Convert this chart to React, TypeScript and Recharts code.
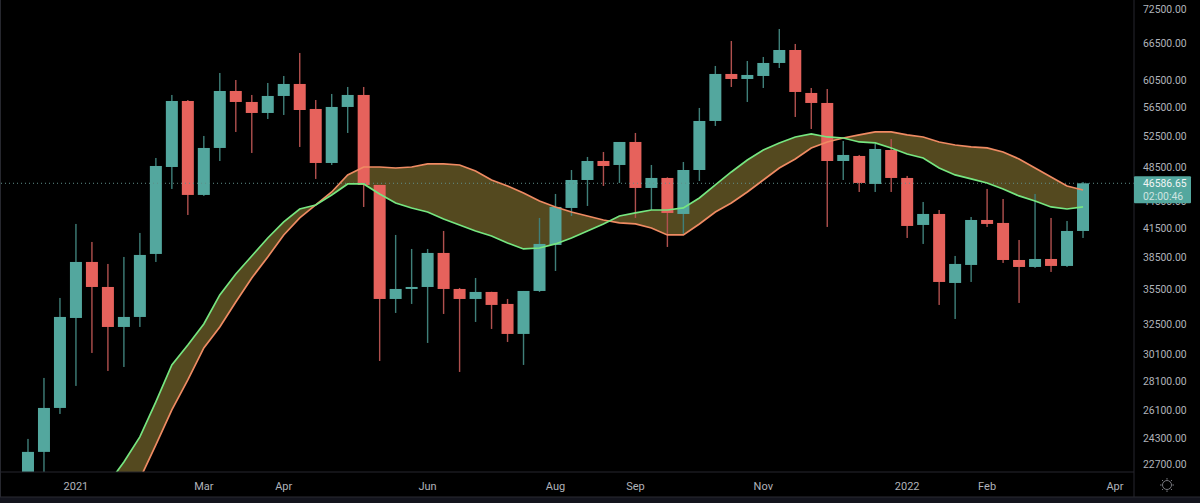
import React from 'react';
import {
  ComposedChart,
  Area,
  Line,
  Bar,
  XAxis,
  YAxis,
  ReferenceLine,
} from 'recharts';

// weekly candles, week start dates
const weeks = [
  '2020-12-14', '2020-12-21', '2020-12-28', '2021-01-04', '2021-01-11', '2021-01-18', '2021-01-25', '2021-02-01',
  '2021-02-08', '2021-02-15', '2021-02-22', '2021-03-01', '2021-03-08', '2021-03-15', '2021-03-22', '2021-03-29',
  '2021-04-05', '2021-04-12', '2021-04-19', '2021-04-26', '2021-05-03', '2021-05-10', '2021-05-17', '2021-05-24',
  '2021-05-31', '2021-06-07', '2021-06-14', '2021-06-21', '2021-06-28', '2021-07-05', '2021-07-12', '2021-07-19',
  '2021-07-26', '2021-08-02', '2021-08-09', '2021-08-16', '2021-08-23', '2021-08-30', '2021-09-06', '2021-09-13',
  '2021-09-20', '2021-09-27', '2021-10-04', '2021-10-11', '2021-10-18', '2021-10-25', '2021-11-01', '2021-11-08',
  '2021-11-15', '2021-11-22', '2021-11-29', '2021-12-06', '2021-12-13', '2021-12-20', '2021-12-27', '2022-01-03',
  '2022-01-10', '2022-01-17', '2022-01-24', '2022-01-31', '2022-02-07', '2022-02-14', '2022-02-21', '2022-02-28',
  '2022-03-07', '2022-03-14', '2022-03-21',
];

const opens = [
  19400, 23470, 26256, 33035, 38111, 35754, 32285, 33120, 38898, 48565, 57476, 45221, 50981, 58962, 57331, 55744,
  58217, 60027, 56316, 49065, 56606, 58366, 46388, 34676, 35573, 35754, 38997, 35573, 34676, 35302, 34238, 31715,
  35392, 39802, 43742, 46980, 49315, 48815, 51767, 46033, 47224, 43078, 48194, 54616, 61579, 60796, 61264, 63332,
  65464, 58664, 57186, 49315, 49950, 46507, 50718, 47224, 41886, 43078, 36122, 37821, 42421, 42100, 38304, 37628,
  38403, 37725, 41248,
];
const highs = [
  24260, 28346, 34766, 41993, 40106, 37918, 38601, 41040, 49694, 58366, 57621, 52567, 61735, 60639, 58366, 60180,
  61264, 64969, 57621, 58515, 59568, 59568, 46388, 40831, 39396, 39396, 41248, 35664, 36586, 35320, 34676, 35392,
  42641, 45334, 48194, 49823, 50462, 51767, 52971, 48815, 47300, 49190, 56461, 62850, 66987, 63654, 64309, 69071,
  66480, 59415, 59262, 51898, 50078, 51505, 52164, 47468, 44417, 43517, 38700, 42747, 45918, 44757, 40310, 45334,
  42641, 42314, 46743,
];
const lows = [
  19000, 21848, 25857, 27774, 30212, 28856, 29151, 32285, 38111, 45918, 42967, 45106, 49315, 53105, 50334, 54895,
  55461, 51112, 47105, 48815, 52971, 43854, 29601, 33460, 34238, 30994, 33375, 28783, 32700, 32121, 31072, 29303,
  35302, 37245, 42857, 43967, 46270, 46625, 42641, 43517, 39599, 40936, 46860, 53926, 59568, 57331, 59415, 62528,
  55179, 53512, 41673, 46980, 45565, 45565, 45565, 40518, 39904, 34151, 32950, 36214, 41673, 38015, 34326, 37532,
  37151, 37628, 40518,
];
const closes = [
  23470, 26256, 33120, 38111, 35754, 32285, 33120, 38799, 48690, 57476, 45221, 50981, 58962, 57331, 55744, 58217,
  60027, 56169, 49065, 56606, 58366, 46388, 34676, 35573, 35754, 38997, 35573, 34676, 35302, 34151, 31715, 35392,
  39904, 43854, 46980, 49315, 48690, 51767, 46033, 47224, 43188, 48194, 54616, 61579, 60796, 61422, 63332, 65464,
  58813, 57186, 49315, 50078, 46625, 50850, 47224, 41779, 43078, 36214, 37918, 42421, 41993, 38304, 37628, 38403,
  37725, 41248, 46586.65,
];

// the two moving averages, they start below the visible range
const fastEma = [
  null, null, null, null, null, 21620, 22876, 24384, 26661, 29303, 30836, 32534, 35034, 36963, 38700, 40518,
  42207, 43630, 44080, 45221, 46507, 46507, 45334, 44305, 43742, 43297, 42527, 41886, 41248, 40728, 40004, 39396,
  39494, 39904, 40518, 41248, 41993, 42857, 43188, 43517, 43517, 43742, 44872, 46388, 47952, 49440, 50718, 51636,
  52433, 52836, 52433, 52298, 51767, 51636, 50981, 50206, 49694, 48440, 47589, 47105, 46625, 45918, 45106, 44530,
  43854, 43630, 43854,
];
const slowEma = [
  null, null, null, null, null, 19730, 20760, 21905, 23891, 26121, 28200, 30598, 32285, 34413, 36586, 38601,
  40831, 42641, 44080, 45565, 47589, 48565, 48565, 48440, 48565, 48940, 48940, 48815, 48073, 46980, 46270, 45451,
  44530, 43854, 43297, 42857, 42421, 42100, 41993, 41566, 40831, 40831, 41993, 43297, 44305, 45565, 46980, 48440,
  49565, 50981, 51767, 52298, 52702, 53105, 53105, 52702, 52433, 51767, 51370, 51112, 50981, 50462, 49565, 48440,
  47347, 46270, 45796,
];

const priceTicks = [
  72500, 66500, 60500, 56500, 52500, 48500, 44500, 41500, 38500, 35500, 32500, 30100, 28100, 26100, 24300, 22700,
];
const lastPrice = 46586.65;
const countdown = '02:00:46';

const timeTicks = [3, 11, 16, 25, 33, 38, 46, 55, 60, 68];
const timeLabels = ['2021', 'Mar', 'Apr', 'Jun', 'Aug', 'Sep', 'Nov', '2022', 'Feb', 'Apr'];

const chartData = weeks.map((week, i) => ({
  i,
  week,
  open: opens[i],
  high: highs[i],
  low: lows[i],
  close: closes[i],
  fast: fastEma[i],
  slow: slowEma[i],
  band: fastEma[i] == null ? null : [fastEma[i], slowEma[i]],
  range: [lows[i], highs[i]],
}));

const FONT = 'Roboto, sans-serif';
const UP = '#53a79e';
const DOWN = '#e6625c';
const UP_WICK = '#3f7f79';
const DOWN_WICK = '#b0504e';
const GRID = '#26272e';

// bar rectangle spans low..high, open/close are placed inside it on the log scale
function Candle(props: any) {
  const { x, y, width, height, payload } = props;
  const { open, high, low, close } = payload;
  const span = Math.log(high / low);
  const at = (v: number) => y + (height * Math.log(high / v)) / span;
  const up = close >= open;
  const top = at(Math.max(open, close));
  const bottom = at(Math.min(open, close));
  const cx = x + width / 2;
  return (
    <g>
      <rect x={cx - 0.7} y={y} width={1.4} height={height} fill={up ? UP_WICK : DOWN_WICK} />
      <rect x={x} y={top} width={width} height={Math.max(bottom - top, 1)} fill={up ? UP : DOWN} />
    </g>
  );
}

function PriceTick(props: any) {
  const { y, payload } = props;
  if (payload.value === lastPrice) {
    return (
      <g>
        <rect x={1134} y={y - 7} width={57} height={27} rx={1} fill={UP} />
        <text x={1143} y={y + 3.5} fontFamily={FONT} fontSize={10.4} fill="#f2f5f5">
          {lastPrice.toFixed(2)}
        </text>
        <text x={1143} y={y + 17} fontFamily={FONT} fontSize={10.4} fill="#cfe4e1">
          {countdown}
        </text>
      </g>
    );
  }
  return (
    <text x={1143} y={y + 3.5} fontFamily={FONT} fontSize={10.4} fill="#b0b3ba">
      {payload.value.toFixed(2)}
    </text>
  );
}

export default function App() {
  return (
    <div style={{ position: 'absolute', left: 0, top: 0, width: 1200, height: 503, background: '#000', overflow: 'hidden' }}>
      <ComposedChart width={1200} height={503} data={chartData} margin={{ top: 0, right: 0, bottom: 0, left: 0 }}>
        <XAxis
          dataKey="i"
          type="number"
          domain={[-1.75, 69.19]}
          allowDataOverflow
          ticks={timeTicks}
          interval={0}
          tickFormatter={(v: number) => timeLabels[timeTicks.indexOf(v)]}
          tick={{ fill: '#b0b3ba', fontSize: 11, fontFamily: FONT }}
          tickLine={false}
          tickMargin={4}
          axisLine={{ stroke: GRID }}
          height={31}
        />
        <YAxis
          orientation="right"
          scale="log"
          domain={[22296, 74374]}
          allowDataOverflow
          ticks={[...priceTicks, lastPrice]}
          interval={0}
          tick={<PriceTick />}
          tickLine={false}
          axisLine={{ stroke: GRID }}
          width={66}
        />
        <ReferenceLine y={lastPrice} stroke="#5f8f8a" strokeDasharray="1 3" />
        <Area
          dataKey="band"
          type="linear"
          stroke="none"
          fill="#54491f"
          fillOpacity={1}
          dot={false}
          activeDot={false}
          isAnimationActive={false}
        />
        <Line dataKey="slow" type="linear" stroke="#ef8b63" strokeWidth={1.7} dot={false} activeDot={false} isAnimationActive={false} />
        <Line dataKey="fast" type="linear" stroke="#76e680" strokeWidth={1.7} dot={false} activeDot={false} isAnimationActive={false} />
        <Bar dataKey="range" barSize={12} shape={<Candle />} isAnimationActive={false} />
      </ComposedChart>
      <svg width={1200} height={503} style={{ position: 'absolute', left: 0, top: 0 }}>
        <line x1={0.5} y1={0} x2={0.5} y2={497} stroke={GRID} />
        <line x1={1134} y1={472} x2={1134} y2={497} stroke={GRID} />
        <rect x={0} y={497} width={1200} height={6} fill="#13141d" />
        <line x1={0} y1={497} x2={1200} y2={497} stroke="#2a2b33" />
        <g stroke="#77787e" fill="none" strokeWidth={1}>
          <circle cx={1167} cy={485} r={4.5} />
          <path d="M1167 478v1.6M1167 490.4v1.6M1160 485h1.6M1172.4 485h1.6M1162 480l1.2 1.2M1170.8 488.8l1.2 1.2M1172 480l-1.2 1.2M1163.2 488.8l-1.2 1.2" />
        </g>
      </svg>
    </div>
  );
}
